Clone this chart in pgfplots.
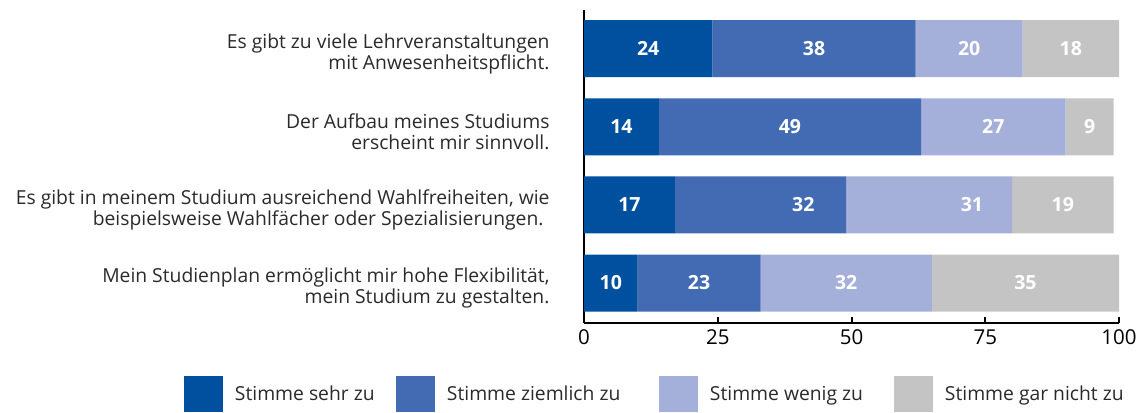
\documentclass[border=0pt]{standalone}
\usepackage{fontspec}
\setmainfont{Open Sans}
\usepackage{pgfplots}
\pgfplotsset{compat=1.18}

\definecolor{sehr}{HTML}{0050A0}
\definecolor{ziemlich}{HTML}{426BB3}
\definecolor{wenig}{HTML}{A5B0DA}
\definecolor{garnicht}{HTML}{C4C4C4}
\definecolor{txt}{HTML}{2A2A2A}

\begin{document}
\begin{tikzpicture}
% bars
\begin{axis}[
    at={(584pt,89pt)}, anchor=south west,
    scale only axis,
    width=535pt, height=313pt,
    xbar stacked,
    bar width=57pt,
    xmin=0, xmax=100,
    ymin=0.488, ymax=4.496,
    xtick={0,25,50,75,100},
    ytick={1,2,3,4},
    yticklabels={
        {Mein Studienplan ermöglicht mir hohe Flexibilität,\\mein Studium zu gestalten.},
        {Es gibt in meinem Studium ausreichend Wahlfreiheiten, wie\\beispielsweise Wahlfächer oder Spezialisierungen.\hspace*{6pt}},
        {Der Aufbau meines Studiums\\erscheint mir sinnvoll.},
        {Es gibt zu viele Lehrveranstaltungen\\mit Anwesenheitspflicht.}},
    yticklabel style={align=right, text=txt, font=\fontsize{19.3}{21}\selectfont, xshift=-31pt, yshift=-5pt},
    xticklabel style={font=\fontsize{20.5}{24}\selectfont, yshift=-3pt},
    /pgf/number format/assume math mode=true,
    axis x line*=bottom, axis y line*=left,
    axis line style={-, line width=2pt, black},
    tick align=inside,
    major tick length=6pt,
    xtick style={black, line width=2pt},
    ytick style={draw=none},
    legend columns=4,
    legend style={at={(0,0)}, anchor=west, xshift=-400pt, yshift=-71pt,
        draw=none, fill=none, inner sep=0pt, outer sep=0pt,
        column sep=0pt, nodes={inner sep=0pt},
        cells={anchor=west}, font=\fontsize{19.3}{22}\selectfont, text=txt},
    legend image code/.code={\fill[#1] (0pt,-18pt) rectangle (39pt,18pt);},
]
\addplot[fill=sehr, draw=none] coordinates {(10,1) (17,2) (14,3) (24,4)};
\addplot[fill=ziemlich, draw=none] coordinates {(23,1) (32,2) (49,3) (38,4)};
\addplot[fill=wenig, draw=none] coordinates {(32,1) (31,2) (27,3) (20,4)};
\addplot[fill=garnicht, draw=none] coordinates {(35,1) (19,2) (9,3) (18,4)};
\legend{\makebox[173pt][l]{\hspace*{12pt}Stimme sehr zu},
        \makebox[224pt][l]{\hspace*{12pt}Stimme ziemlich zu},
        \makebox[196pt][l]{\hspace*{12pt}Stimme wenig zu},
        \makebox[200pt][l]{\hspace*{12pt}Stimme gar nicht zu}}
\end{axis}
% value labels, centred in each segment
\begin{axis}[
    at={(584pt,89pt)}, anchor=south west,
    scale only axis,
    width=535pt, height=313pt,
    xmin=0, xmax=100,
    ymin=0.488, ymax=4.496,
    hide axis,
]
\addplot[only marks, mark=none, nodes near coords, point meta=explicit symbolic,
    every node near coord/.append style={anchor=center, text=white,
        font=\fontsize{19.5}{24}\selectfont\bfseries}]
    coordinates {
    (12,4)[24] (43,4)[38] (72,4)[20] (91,4)[18]
    (7,3)[14] (38.5,3)[49] (76.5,3)[27] (94.5,3)[9]
    (8.5,2)[17] (41,2)[32] (72.5,2)[31] (89.5,2)[19]
    (5,1)[10] (21.5,1)[23] (49,1)[32] (82.5,1)[35]
};
\end{axis}
\pgfresetboundingbox
\path[use as bounding box] (0,0) rectangle (1142pt,412pt);
\end{tikzpicture}
\end{document}
